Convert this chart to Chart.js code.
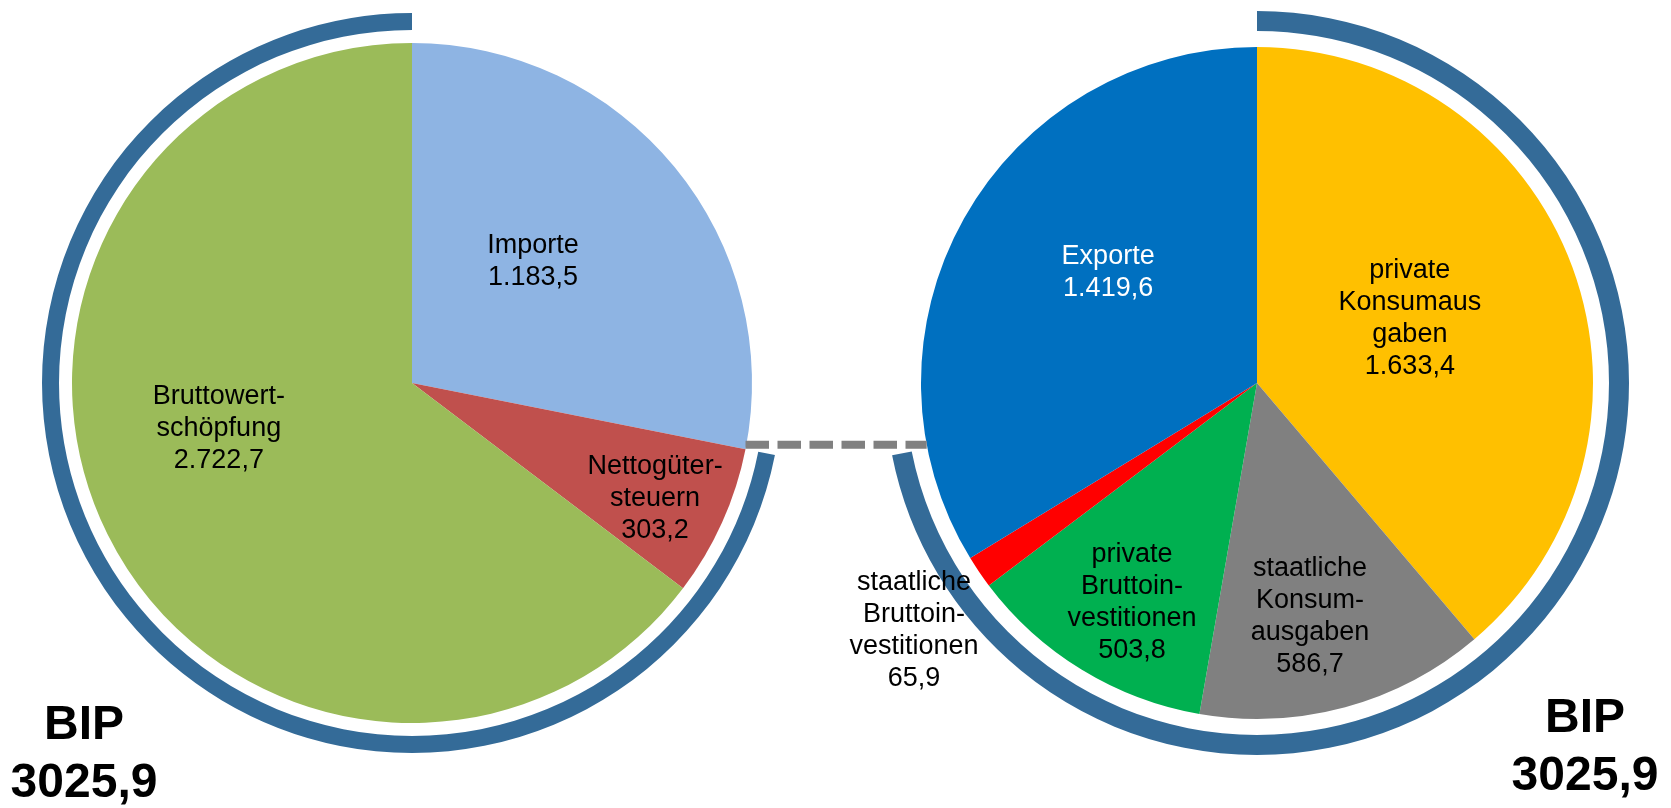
<!DOCTYPE html>
<html>
<head>
<meta charset="utf-8">
<script src="https://cdn.jsdelivr.net/npm/chart.js@4"></script>
<style>
html,body{margin:0;padding:0;background:#fff;}
body{width:1671px;height:808px;position:relative;overflow:hidden;font-family:"Liberation Sans",Arial,sans-serif;}
.box{position:absolute;}
.lbl{position:absolute;transform:translate(-50%,-50%);text-align:center;font-size:27px;line-height:32px;color:#000;white-space:nowrap;z-index:3;}
.bip{position:absolute;transform:translateX(-50%);text-align:center;font-weight:bold;font-size:48px;line-height:58px;color:#000;white-space:nowrap;z-index:3;}
#overlay{position:absolute;left:0;top:0;pointer-events:none;z-index:2;}
</style>
</head>
<body>
<div class="box" id="leftBox" style="left:42px;top:13px;width:740px;height:740px"><canvas id="leftChart" width="740" height="740"></canvas></div>
<div class="box" id="rightBox" style="left:885px;top:11px;width:744px;height:744px"><canvas id="rightChart" width="744" height="744"></canvas></div>
<canvas id="overlay" width="1671" height="808"></canvas>
<script>
// ---- data ----
const leftCategories = ["Importe", "Nettogütersteuern", "Bruttowertschöpfung"];
const leftLabelLines = [["Importe"], ["Nettogüter-", "steuern"], ["Bruttowert-", "schöpfung"]];
const leftValues = [1183.5, 303.2, 2722.7];

const rightCategories = ["private Konsumausgaben", "staatliche Konsumausgaben", "private Bruttoinvestitionen", "staatliche Bruttoinvestitionen", "Exporte"];
const rightLabelLines = [["private", "Konsumaus", "gaben"], ["staatliche", "Konsum-", "ausgaben"], ["private", "Bruttoin-", "vestitionen"], ["staatliche", "Bruttoin-", "vestitionen"], ["Exporte"]];
const rightValues = [1633.4, 586.7, 503.8, 65.9, 1419.6];

const bipTitle = "BIP";

// ---- styles ----
const leftColors = ["#8eb4e3", "#c0504d", "#9bbb59"];
const rightColors = ["#ffc000", "#808080", "#00b050", "#ff0000", "#0070c0"];
const rightTextColors = ["#000", "#000", "#000", "#000", "#fff"];
const ringColor = "#346b98";
const clear = "rgba(0,0,0,0)";
// label anchors, as fractions of the pie radius from the pie centre
const leftLabelPos = [[0.356, -0.362], [0.715, 0.335], [-0.568, 0.129]];
const rightLabelPos = [[0.455, -0.196], [0.158, 0.690], [-0.372, 0.649], [-1.021, 0.732], [-0.443, -0.333]];

function fmt(v) {
  const s = v.toFixed(1).split(".");
  return s[0].replace(/\B(?=(\d{3})+(?!\d))/g, ".") + "," + s[1];
}
const sum = a => a.reduce((p, c) => p + c, 0);

const bip = leftValues[1] + leftValues[2];
const leftTotal = sum(leftValues);
const rightTotal = sum(rightValues);

const common = {
  type: "pie",
  options: {
    responsive: false,
    animation: false,
    events: [],
    layout: { padding: 0 },
    plugins: { legend: { display: false }, tooltip: { enabled: false } },
    elements: { arc: { borderWidth: 0, hoverOffset: 0, offset: 0 } }
  }
};

const leftChart = new Chart(document.getElementById("leftChart"), {
  ...common,
  data: {
    labels: leftCategories,
    datasets: [
      { data: [leftValues[0], bip], backgroundColor: [clear, ringColor], weight: 17, borderWidth: 0 },
      { data: [leftTotal], backgroundColor: [clear], weight: 13, borderWidth: 0 },
      { data: leftValues, backgroundColor: leftColors, weight: 340, borderWidth: 0 }
    ]
  }
});

const rightChart = new Chart(document.getElementById("rightChart"), {
  ...common,
  data: {
    labels: rightCategories,
    datasets: [
      { data: [bip, rightTotal - bip], backgroundColor: [ringColor, clear], weight: 20, borderWidth: 0 },
      { data: [rightTotal], backgroundColor: [clear], weight: 16, borderWidth: 0 },
      { data: rightValues, backgroundColor: rightColors, weight: 336, borderWidth: 0 }
    ]
  }
});

function boxOffset(id) {
  const el = document.getElementById(id);
  return { x: el.offsetLeft, y: el.offsetTop };
}

function addLabels(chart, boxId, lines, values, pos, colors) {
  const off = boxOffset(boxId);
  const arcs = chart.getDatasetMeta(2).data;
  arcs.forEach((arc, i) => {
    const p = arc.getProps(["x", "y", "outerRadius"], true);
    const d = document.createElement("div");
    d.className = "lbl";
    d.style.left = (off.x + p.x + pos[i][0] * p.outerRadius) + "px";
    d.style.top = (off.y + p.y + pos[i][1] * p.outerRadius) + "px";
    d.style.color = colors ? colors[i] : "#000";
    d.innerHTML = lines[i].concat([fmt(values[i])]).join("<br>");
    document.body.appendChild(d);
  });
}
addLabels(leftChart, "leftBox", leftLabelLines, leftValues, leftLabelPos, null);
addLabels(rightChart, "rightBox", rightLabelLines, rightValues, rightLabelPos, rightTextColors);

// BIP labels
function addBip(x, top) {
  const d = document.createElement("div");
  d.className = "bip";
  d.style.left = x + "px";
  d.style.top = top + "px";
  d.innerHTML = bipTitle + "<br>" + bip.toFixed(1).replace(".", ",");
  document.body.appendChild(d);
}
addBip(84, 694);
addBip(1585, 687);

// dashed connector from the end of "Importe" on the left pie to the right pie edge
(function () {
  const lo = boxOffset("leftBox"), ro = boxOffset("rightBox");
  const la = leftChart.getDatasetMeta(2).data[0].getProps(["x", "y", "outerRadius", "endAngle"], true);
  const ra = rightChart.getDatasetMeta(2).data[0].getProps(["x", "y", "outerRadius"], true);
  const x0 = lo.x + la.x + la.outerRadius * Math.cos(la.endAngle);
  const yEdge = lo.y + la.y + la.outerRadius * Math.sin(la.endAngle);
  const y = yEdge - 4.5;
  const rcx = ro.x + ra.x, rcy = ro.y + ra.y;
  const x1 = rcx - Math.sqrt(Math.max(ra.outerRadius * ra.outerRadius - (y - rcy) * (y - rcy), 0));
  const ctx = document.getElementById("overlay").getContext("2d");
  ctx.strokeStyle = "#808080";
  ctx.lineWidth = 8;
  ctx.lineCap = "butt";
  ctx.setLineDash([23.5, 8.5]);
  ctx.beginPath();
  ctx.moveTo(x0, y);
  ctx.lineTo(x1, y);
  ctx.stroke();
})();
</script>
</body>
</html>
